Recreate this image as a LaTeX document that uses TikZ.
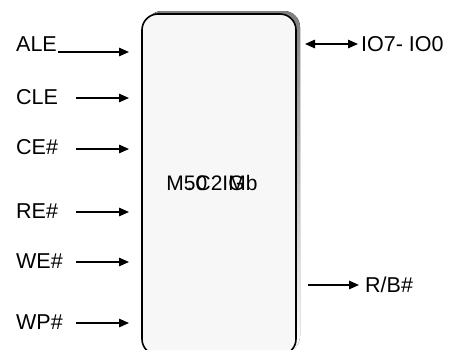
\documentclass[tikz,border=0pt]{standalone}
\usepackage{fontspec}
\setmainfont{Liberation Sans}
\usetikzlibrary{arrows.meta}
\definecolor{boxfill}{HTML}{F7F7F7}
\definecolor{shade}{HTML}{8A8A8A}
\tikzset{
  sig/.style={font=\fontsize{21.5}{24}\selectfont, inner sep=0pt, anchor=west},
  tip/.style={Triangle[length=10pt,width=8.5pt]},
  wire/.style={line width=1.4pt, -{Triangle[length=10pt,width=8.5pt]}},
  biwire/.style={line width=1.4pt, {Triangle[length=10pt,width=8.5pt]}-{Triangle[length=10pt,width=8.5pt]}},
  chiptext/.style={font=\fontsize{21}{23}\selectfont, inner sep=0pt}
}
\begin{document}
\begin{tikzpicture}[x=1pt,y=-1pt]
  \useasboundingbox (0,0) rectangle (457,349);
  % device outline with its drop shadow
  \fill[shade, rounded corners=16pt] (146,11) rectangle (300,352);
  \draw[line width=1.6pt, fill=boxfill, rounded corners=16pt] (142,14) rectangle (296,355);
  % overprinted part name
  \node[chiptext] (chip) at (212,183) {M5C2IMb};
  \node[chiptext] (chipb) at (212,183) {\phantom{M}\rlap{\hspace{3pt}.}\phantom{5}\rlap{0}\phantom{C2I}\rlap{G}\phantom{Mb}};
  % input signals
  \node[sig] (ale) at (16,44) {ALE};
  \node[sig] (cle) at (16,97) {CLE};
  \node[sig] (ce) at (16,147) {CE\#};
  \node[sig] (re) at (16,211) {RE\#};
  \node[sig] (we) at (16,261) {WE\#};
  \node[sig] (wp) at (16,322) {WP\#};
  \coordinate (aleA) at (58,52);  \coordinate (aleB) at (129,52);
  \coordinate (cleA) at (76,98);  \coordinate (cleB) at (129,98);
  \coordinate (ceA) at (76,149);  \coordinate (ceB) at (129,149);
  \coordinate (reA) at (76,212);  \coordinate (reB) at (129,212);
  \coordinate (weA) at (76,262);  \coordinate (weB) at (129,262);
  \coordinate (wpA) at (76,323);  \coordinate (wpB) at (129,323);
  \draw[wire] (aleA) -- (aleB);
  \draw[wire] (cleA) -- (cleB);
  \draw[wire] (ceA) -- (ceB);
  \draw[wire] (reA) -- (reB);
  \draw[wire] (weA) -- (weB);
  \draw[wire] (wpA) -- (wpB);
  % outputs
  \node[sig] (io) at (361,44) {IO7- IO0};
  \node[sig] (rb) at (365,285) {R/B\#};
  \coordinate (ioA) at (305,44);
  \coordinate (rbA) at (308,285);
  \draw[biwire] (ioA) -- ([xshift=-3pt]io.west);
  \draw[wire] (rbA) -- ([xshift=-6pt]rb.west);
\end{tikzpicture}
\end{document}
